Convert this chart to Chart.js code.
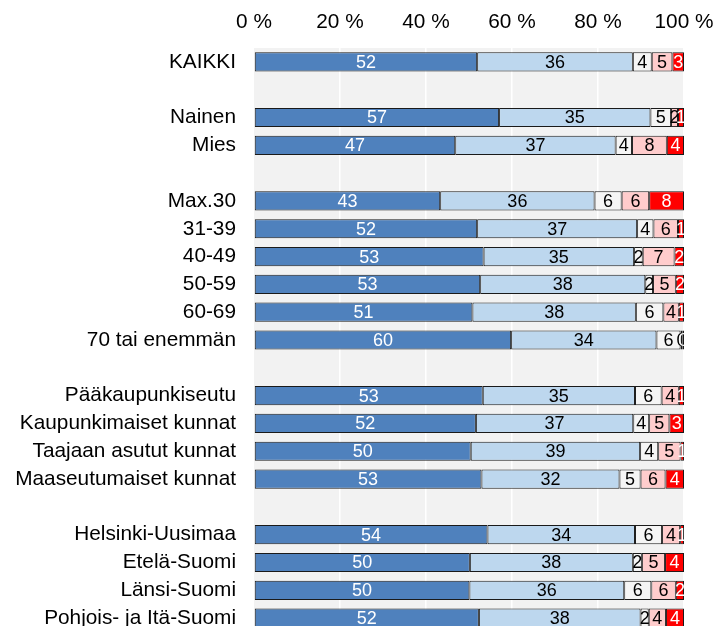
<!DOCTYPE html>
<html>
<head>
<meta charset="utf-8">
<script src="https://cdn.jsdelivr.net/npm/chart.js@4/dist/chart.umd.min.js"></script>
<style>
html, body { margin: 0; padding: 0; background: #ffffff; overflow: hidden; }
canvas { display: block; }
</style>
</head>
<body>
<canvas id="c" width="715" height="632" style="width:715px;height:632px;"></canvas>
<script>
const categories = ["KAIKKI", "", "Nainen", "Mies", "", "Max.30", "31-39", "40-49", "50-59", "60-69", "70 tai enemmän", "",
  "Pääkaupunkiseutu", "Kaupunkimaiset kunnat", "Taajaan asutut kunnat", "Maaseutumaiset kunnat", "",
  "Helsinki-Uusimaa", "Etelä-Suomi", "Länsi-Suomi", "Pohjois- ja Itä-Suomi"];

const series1 = [51.9, null, 57.0, 46.8, null, 43.3, 51.9, 53.4, 52.6, 50.8, 59.8, null, 53.2, 51.6, 50.4, 52.9, null, 54.3, 50.2, 50.1, 52.3];
const series2 = [36.2, null, 35.2, 37.3, null, 35.9, 37.2, 35.0, 38.4, 38.0, 33.8, null, 35.4, 36.6, 39.4, 32.1, null, 34.3, 37.9, 36.0, 37.6];
const series3 = [4.4, null, 4.8, 3.8, null, 6.3, 3.8, 2.0, 1.8, 6.4, 5.6, null, 6.2, 3.7, 4.2, 4.9, null, 6.3, 2.1, 6.3, 1.9];
const series4 = [4.8, null, 1.6, 8.1, null, 6.4, 5.7, 7.4, 5.3, 3.6, 0.4, null, 4.0, 4.7, 5.2, 5.8, null, 4.2, 5.4, 5.7, 4.0];
const series5 = [2.7, null, 1.4, 4.0, null, 8.1, 1.4, 2.2, 1.9, 1.2, 0.4, null, 1.2, 3.4, 0.8, 4.3, null, 0.9, 4.4, 1.9, 4.2];

const xTicks = [0, 20, 40, 60, 80, 100];

const fills = ["#4f81bd", "#bdd7ee", "#f5f5f5", "#ffcccc", "#ff0000"];
const labelColors = ["#ffffff", "#000000", "#000000", "#000000", "#ffffff"];
const allSeries = [series1, series2, series3, series4, series5];

const FONT = "'Liberation Sans', Arial, sans-serif";

function zeroPad(scale) {
  scale.paddingTop = 0; scale.paddingBottom = 0;
  scale.paddingLeft = 0; scale.paddingRight = 0;
}

const bgPlugin = {
  id: 'bg',
  beforeDraw(chart) {
    const { ctx, chartArea: a } = chart;
    ctx.save();
    ctx.fillStyle = '#ffffff';
    ctx.fillRect(0, 0, chart.width, chart.height);
    ctx.fillStyle = '#f2f2f2';
    ctx.fillRect(a.left, a.top, a.right - a.left, a.bottom - a.top);
    ctx.restore();
  }
};

const labelPlugin = {
  id: 'barLabels',
  afterDatasetsDraw(chart) {
    const { ctx, chartArea: a } = chart;
    ctx.save();
    ctx.beginPath();
    ctx.rect(a.left, a.top, a.right - a.left, a.bottom - a.top);
    ctx.clip();
    ctx.font = '18px ' + FONT;
    ctx.textAlign = 'center';
    ctx.textBaseline = 'middle';
    chart.data.datasets.forEach((ds, i) => {
      const meta = chart.getDatasetMeta(i);
      meta.data.forEach((el, j) => {
        const v = ds.data[j];
        if (v === null || v === undefined) return;
        const cx = (el.x + el.base) / 2;
        ctx.fillStyle = labelColors[i];
        ctx.fillText(String(Math.round(v)), cx, el.y + 1);
      });
    });
    ctx.restore();
  }
};

new Chart(document.getElementById('c'), {
  type: 'bar',
  data: {
    labels: categories,
    datasets: allSeries.map((d, i) => ({
      data: d,
      backgroundColor: fills[i],
      borderColor: '#1a1a1a',
      borderWidth: 1,
      borderSkipped: false,
      barPercentage: 0.69,
      categoryPercentage: 1.0
    }))
  },
  options: {
    indexAxis: 'y',
    responsive: false,
    devicePixelRatio: 1,
    animation: false,
    layout: { padding: { left: 0, right: 31, top: 0, bottom: 0 } },
    plugins: { legend: { display: false }, tooltip: { enabled: false } },
    scales: {
      x: {
        position: 'top',
        stacked: true,
        min: 0,
        max: 100,
        afterBuildTicks(scale) { scale.ticks = xTicks.map(v => ({ value: v })); },
        afterFit(scale) { scale.height = 48; zeroPad(scale); },
        border: { display: false },
        grid: {
          drawTicks: false,
          color: (c) => (c.tick && c.tick.value === 0) ? 'rgba(0,0,0,0)' : '#ffffff',
          lineWidth: 1.5
        },
        ticks: {
          padding: 13,
          color: '#000000',
          font: { family: FONT, size: 20.8 },
          callback: (v) => v + ' %',
          maxRotation: 0
        }
      },
      y: {
        stacked: true,
        afterFit(scale) { scale.width = 254; zeroPad(scale); },
        border: { display: false },
        grid: { display: false, drawTicks: false },
        ticks: {
          padding: 18,
          color: '#000000',
          font: { family: FONT, size: 20.8 },
          autoSkip: false
        }
      }
    }
  },
  plugins: [bgPlugin, labelPlugin]
});
</script>
</body>
</html>
